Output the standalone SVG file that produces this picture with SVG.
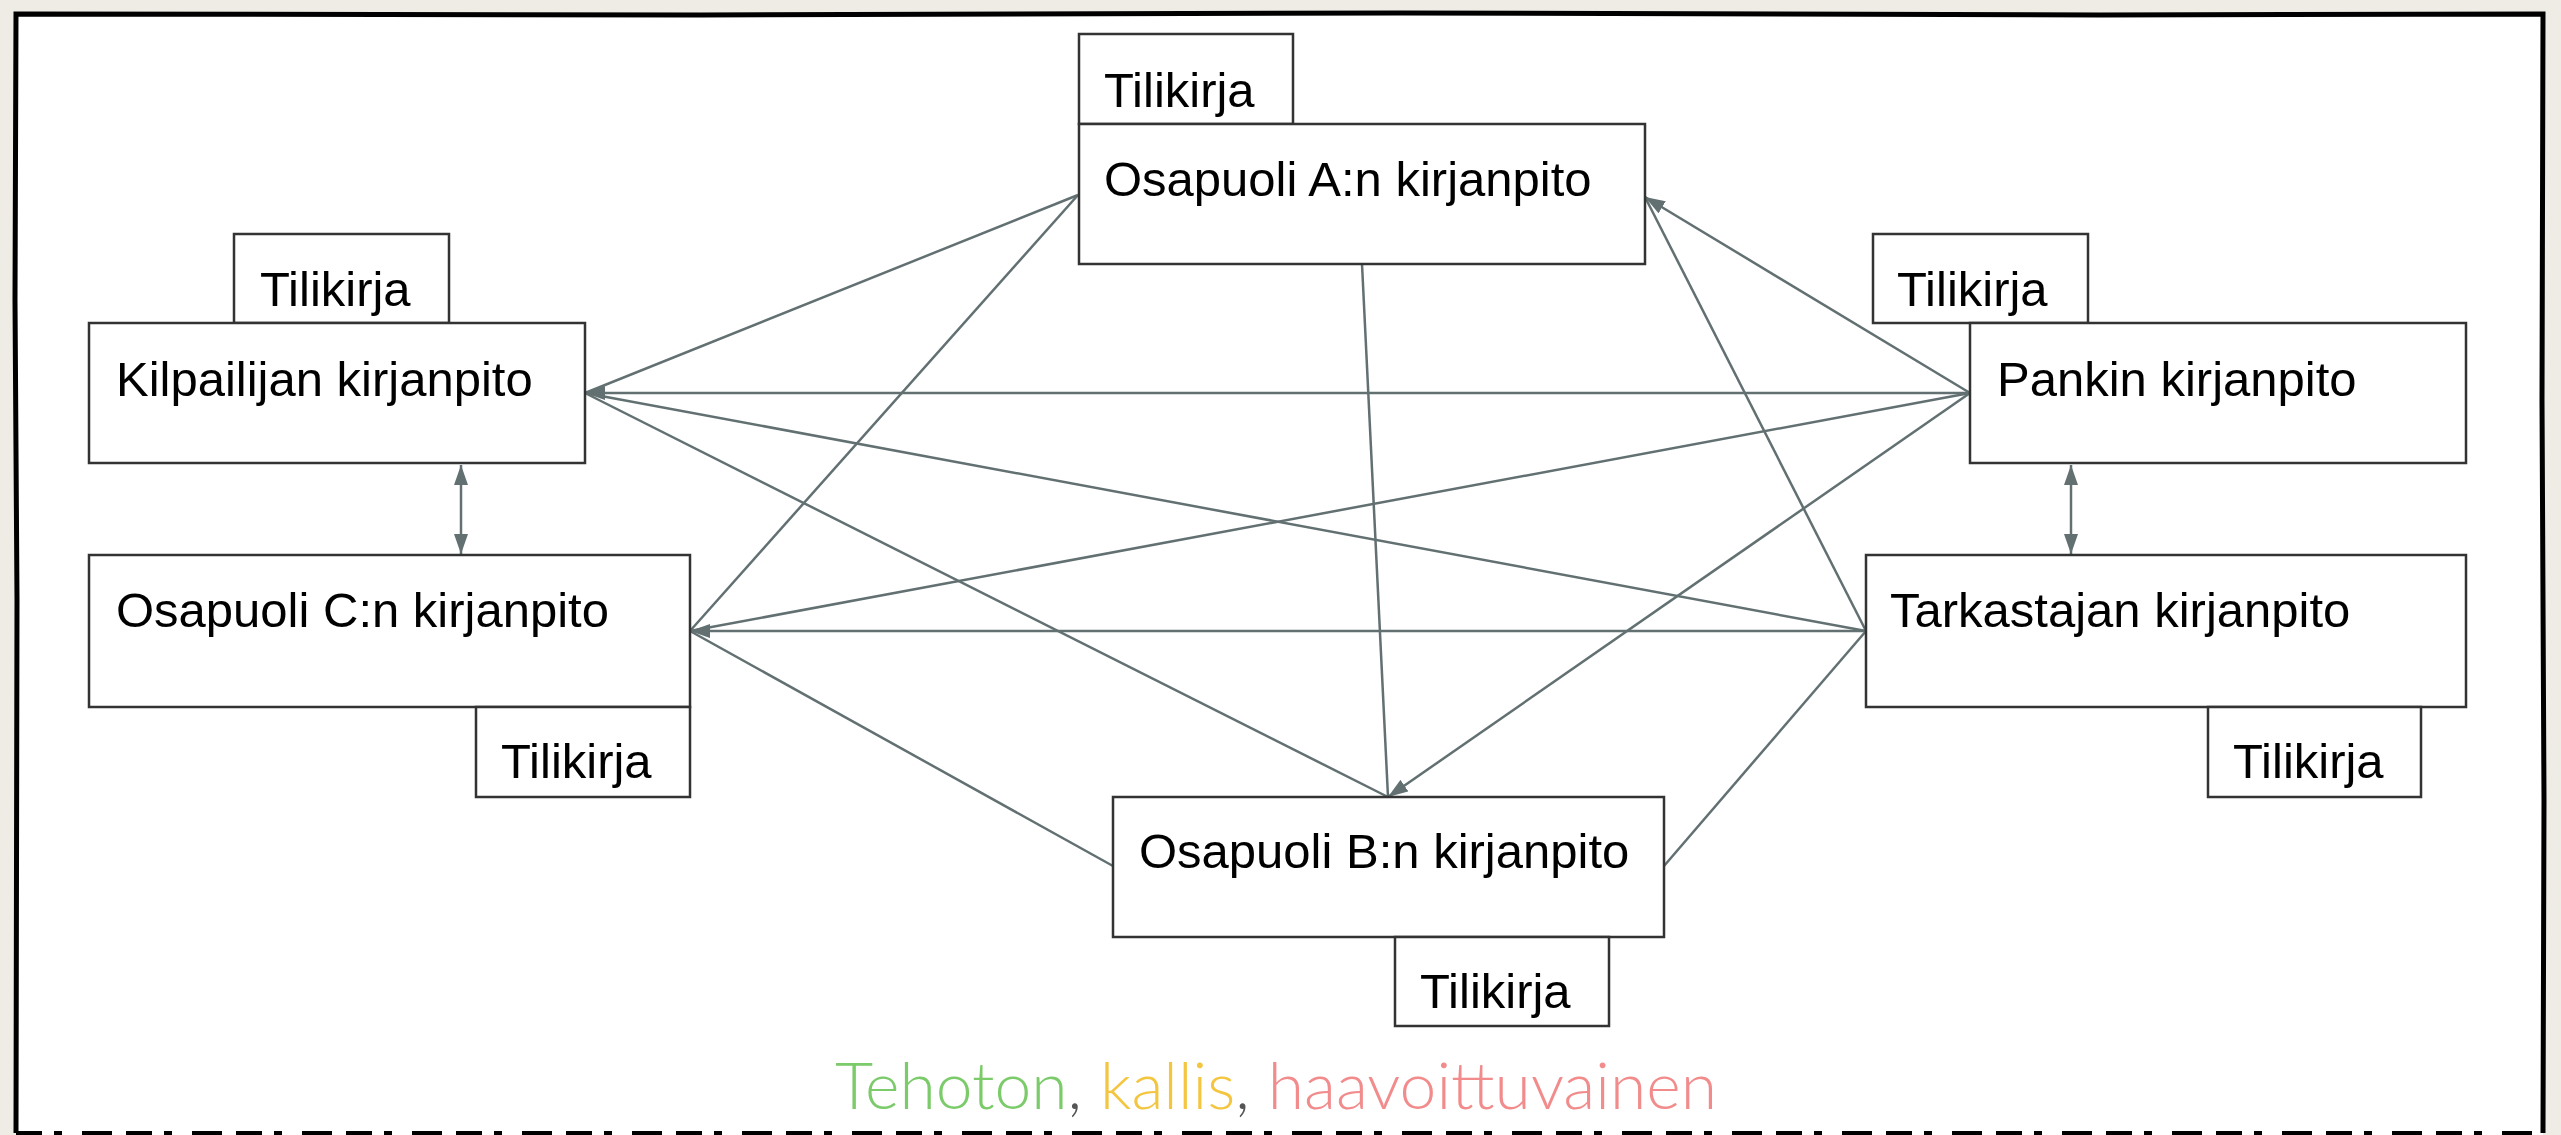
<svg xmlns="http://www.w3.org/2000/svg" width="2561" height="1135" viewBox="0 0 2561 1135">
  <defs>
    <style>
      .box { fill: #ffffff; stroke: #333333; stroke-width: 2.5; }
      .lbl { font-family: "Liberation Sans", Arial, sans-serif; font-size: 49px; fill: #000000; }
      .conn { stroke: #627072; stroke-width: 2.5; fill: none; }
      .foot { font-family: Lato, "Open Sans", sans-serif; font-weight: 300; font-size: 66px; }
    </style>
    <marker id="arr" viewBox="0 0 20 14" refX="20" refY="7" markerWidth="20" markerHeight="14" markerUnits="userSpaceOnUse" orient="auto-start-reverse">
      <path d="M0,0 L20,7 L0,14 Z" fill="#627072"/>
    </marker>
  </defs>

  <rect x="0" y="0" width="2561" height="1135" fill="#efece5"/>
  <rect x="16" y="14" width="2527" height="1130" fill="#ffffff"/>
  <g id="frame" fill="none" stroke="#000000">
    <path d="M16,1133 L17,600 L15,300 L16,14 L700,15 L1400,13 L2100,15 L2543,14 L2542,400 L2544,800 L2543,1133" stroke-width="5"/>
    <line x1="16" y1="1133" x2="2543" y2="1133" stroke-width="4" stroke-dasharray="26 12 8 20 30 14"/>
  </g>

  <g id="connectors">
    <line class="conn" x1="1078" y1="195" x2="585" y2="393"/>
    <line class="conn" x1="1078" y1="195" x2="690" y2="631"/>
    <line class="conn" x1="1362" y1="264" x2="1388" y2="797"/>
    <line class="conn" x1="1970" y1="393" x2="1645" y2="197" marker-end="url(#arr)"/>
    <line class="conn" x1="1866" y1="631" x2="1645" y2="197"/>
    <line class="conn" x1="1970" y1="393" x2="585" y2="393" marker-end="url(#arr)"/>
    <line class="conn" x1="1970" y1="393" x2="690" y2="631"/>
    <line class="conn" x1="1970" y1="393" x2="1388" y2="797" marker-end="url(#arr)"/>
    <line class="conn" x1="585" y1="393" x2="1866" y2="631"/>
    <line class="conn" x1="585" y1="393" x2="1388" y2="797"/>
    <line class="conn" x1="1866" y1="631" x2="690" y2="631" marker-end="url(#arr)"/>
    <line class="conn" x1="690" y1="631" x2="1113" y2="866"/>
    <line class="conn" x1="1866" y1="631" x2="1664" y2="866"/>
    <line class="conn" x1="461" y1="465" x2="461" y2="554" marker-start="url(#arr)" marker-end="url(#arr)"/>
    <line class="conn" x1="2071" y1="465" x2="2071" y2="554" marker-start="url(#arr)" marker-end="url(#arr)"/>
  </g>

  <g id="node-a">
    <rect class="box" x="1079" y="34" width="214" height="90"/>
    <text class="lbl" x="1104" y="107">Tilikirja</text>
    <rect class="box" x="1079" y="124" width="566" height="140"/>
    <text class="lbl" x="1104" y="196">Osapuoli A:n kirjanpito</text>
  </g>

  <g id="node-kilpailija">
    <rect class="box" x="234" y="234" width="215" height="89"/>
    <text class="lbl" x="260" y="306">Tilikirja</text>
    <rect class="box" x="89" y="323" width="496" height="140"/>
    <text class="lbl" x="116" y="396">Kilpailijan kirjanpito</text>
  </g>

  <g id="node-pankki">
    <rect class="box" x="1873" y="234" width="215" height="89"/>
    <text class="lbl" x="1897" y="306">Tilikirja</text>
    <rect class="box" x="1970" y="323" width="496" height="140"/>
    <text class="lbl" x="1997" y="396">Pankin kirjanpito</text>
  </g>

  <g id="node-c">
    <rect class="box" x="89" y="555" width="601" height="152"/>
    <text class="lbl" x="116" y="627">Osapuoli C:n kirjanpito</text>
    <rect class="box" x="476" y="707" width="214" height="90"/>
    <text class="lbl" x="501" y="778">Tilikirja</text>
  </g>

  <g id="node-tarkastaja">
    <rect class="box" x="1866" y="555" width="600" height="152"/>
    <text class="lbl" x="1890" y="627">Tarkastajan kirjanpito</text>
    <rect class="box" x="2208" y="707" width="213" height="90"/>
    <text class="lbl" x="2233" y="778">Tilikirja</text>
  </g>

  <g id="node-b">
    <rect class="box" x="1113" y="797" width="551" height="140"/>
    <text class="lbl" x="1139" y="868">Osapuoli B:n kirjanpito</text>
    <rect class="box" x="1395" y="937" width="214" height="89"/>
    <text class="lbl" x="1420" y="1008">Tilikirja</text>
  </g>

  <g id="caption">
    <text class="foot" x="1276" y="1109" text-anchor="middle"><tspan fill="#7ccb6a">Tehoton</tspan><tspan fill="#555555">, </tspan><tspan fill="#f4c53f">kallis</tspan><tspan fill="#555555">, </tspan><tspan fill="#f28c8c">haavoittuvainen</tspan></text>
  </g>
</svg>
